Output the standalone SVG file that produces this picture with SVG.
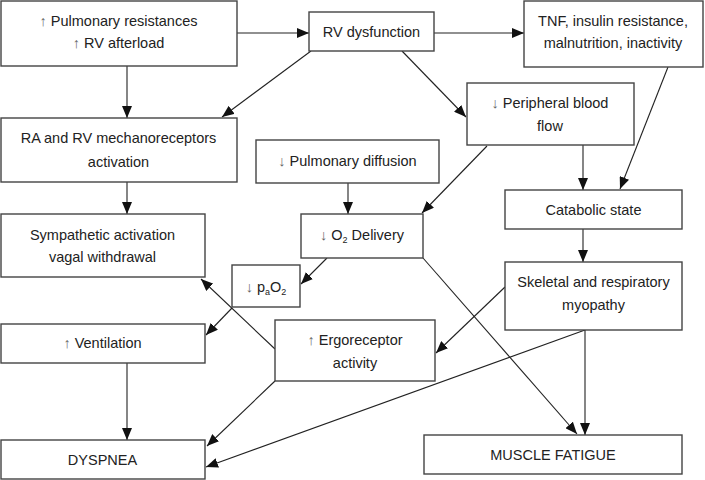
<svg xmlns="http://www.w3.org/2000/svg" width="705" height="480" viewBox="0 0 705 480">
<defs>
<marker id="ah" markerUnits="userSpaceOnUse" markerWidth="12" markerHeight="10" refX="12" refY="5" orient="auto">
<path d="M0,0 L12,5 L0,10 z" fill="#111"/>
</marker>
<style>
rect{fill:#fff;stroke:#444;stroke-width:1.4}
text{font-family:"Liberation Sans",Arial,sans-serif;font-size:14.5px;fill:#222;text-anchor:middle}
.ar{fill:#666}
.sub{font-size:9px}
#edges line{stroke:#222;stroke-width:1.1;marker-end:url(#ah)}
</style>
</defs>
<rect x="0" y="0" width="705" height="480" style="stroke:none;fill:#fff"/>
<g id="edges">
<line x1="237" y1="33" x2="309" y2="33"/>
<line x1="434" y1="33" x2="524" y2="33"/>
<line x1="127" y1="66" x2="127" y2="118"/>
<line x1="311" y1="51" x2="222" y2="117"/>
<line x1="402" y1="51" x2="466" y2="117"/>
<line x1="668" y1="67" x2="620" y2="189"/>
<line x1="583" y1="145" x2="583" y2="190"/>
<line x1="487" y1="146" x2="422" y2="213"/>
<line x1="348" y1="183" x2="348" y2="214"/>
<line x1="127" y1="182" x2="127" y2="214"/>
<line x1="327" y1="258" x2="301" y2="284"/>
<line x1="423" y1="258" x2="577" y2="434"/>
<line x1="583" y1="229" x2="583" y2="262"/>
<line x1="585" y1="330" x2="585" y2="435"/>
<line x1="505" y1="287" x2="436" y2="353"/>
<line x1="585" y1="330" x2="206" y2="467"/>
<line x1="275" y1="349" x2="201" y2="279"/>
<line x1="232" y1="308" x2="206" y2="335"/>
<line x1="127" y1="363" x2="127" y2="440"/>
<line x1="275" y1="381" x2="207" y2="446"/>
</g>
<g id="n-pulm-res">
<rect x="1" y="1" width="236" height="65"/>
<text x="118.5" y="26"><tspan class="ar">↑</tspan> Pulmonary resistances</text>
<text x="118.5" y="48"><tspan class="ar">↑</tspan> RV afterload</text>
</g>
<g id="n-rv-dys">
<rect x="309" y="12" width="125" height="39"/>
<text x="371.5" y="37">RV dysfunction</text>
</g>
<g id="n-tnf">
<rect x="524" y="1" width="179" height="66"/>
<text x="613" y="26">TNF, insulin resistance,</text>
<text x="613" y="48">malnutrition, inactivity</text>
</g>
<g id="n-periph">
<rect x="467" y="83" width="167" height="62"/>
<text x="550" y="108"><tspan class="ar">↓</tspan> Peripheral blood</text>
<text x="550" y="131">flow</text>
</g>
<g id="n-mech">
<rect x="1" y="118" width="236" height="64"/>
<text x="118.5" y="143">RA and RV mechanoreceptors</text>
<text x="118.5" y="167">activation</text>
</g>
<g id="n-pdiff">
<rect x="256" y="140" width="183" height="43"/>
<text x="347.5" y="166"><tspan class="ar">↓</tspan> Pulmonary diffusion</text>
</g>
<g id="n-symp">
<rect x="1" y="214" width="204" height="63"/>
<text x="102.5" y="240">Sympathetic activation</text>
<text x="102.5" y="262">vagal withdrawal</text>
</g>
<g id="n-o2">
<rect x="301" y="214" width="122" height="44"/>
<text x="362" y="240"><tspan class="ar">↓</tspan> O<tspan class="sub" dy="3">2</tspan><tspan dy="-3"> Delivery</tspan></text>
</g>
<g id="n-pao2">
<rect x="232" y="265" width="68" height="42"/>
<text x="266" y="292"><tspan class="ar">↓</tspan> p<tspan class="sub" dy="3">a</tspan><tspan dy="-3">O</tspan><tspan class="sub" dy="3">2</tspan></text>
</g>
<g id="n-catab">
<rect x="505" y="190" width="177" height="39"/>
<text x="593.5" y="215">Catabolic state</text>
</g>
<g id="n-myo">
<rect x="505" y="262" width="177" height="68"/>
<text x="593.5" y="287">Skeletal and respiratory</text>
<text x="593.5" y="310">myopathy</text>
</g>
<g id="n-vent">
<rect x="1" y="324" width="204" height="39"/>
<text x="102.5" y="348"><tspan class="ar">↑</tspan> Ventilation</text>
</g>
<g id="n-ergo">
<rect x="275" y="320" width="160" height="61"/>
<text x="355" y="345"><tspan class="ar">↑</tspan> Ergoreceptor</text>
<text x="355" y="368">activity</text>
</g>
<g id="n-dysp">
<rect x="1" y="440" width="204" height="39"/>
<text x="102.5" y="465">DYSPNEA</text>
</g>
<g id="n-fatigue">
<rect x="424" y="435" width="258" height="39"/>
<text x="553" y="460">MUSCLE FATIGUE</text>
</g>
</svg>
